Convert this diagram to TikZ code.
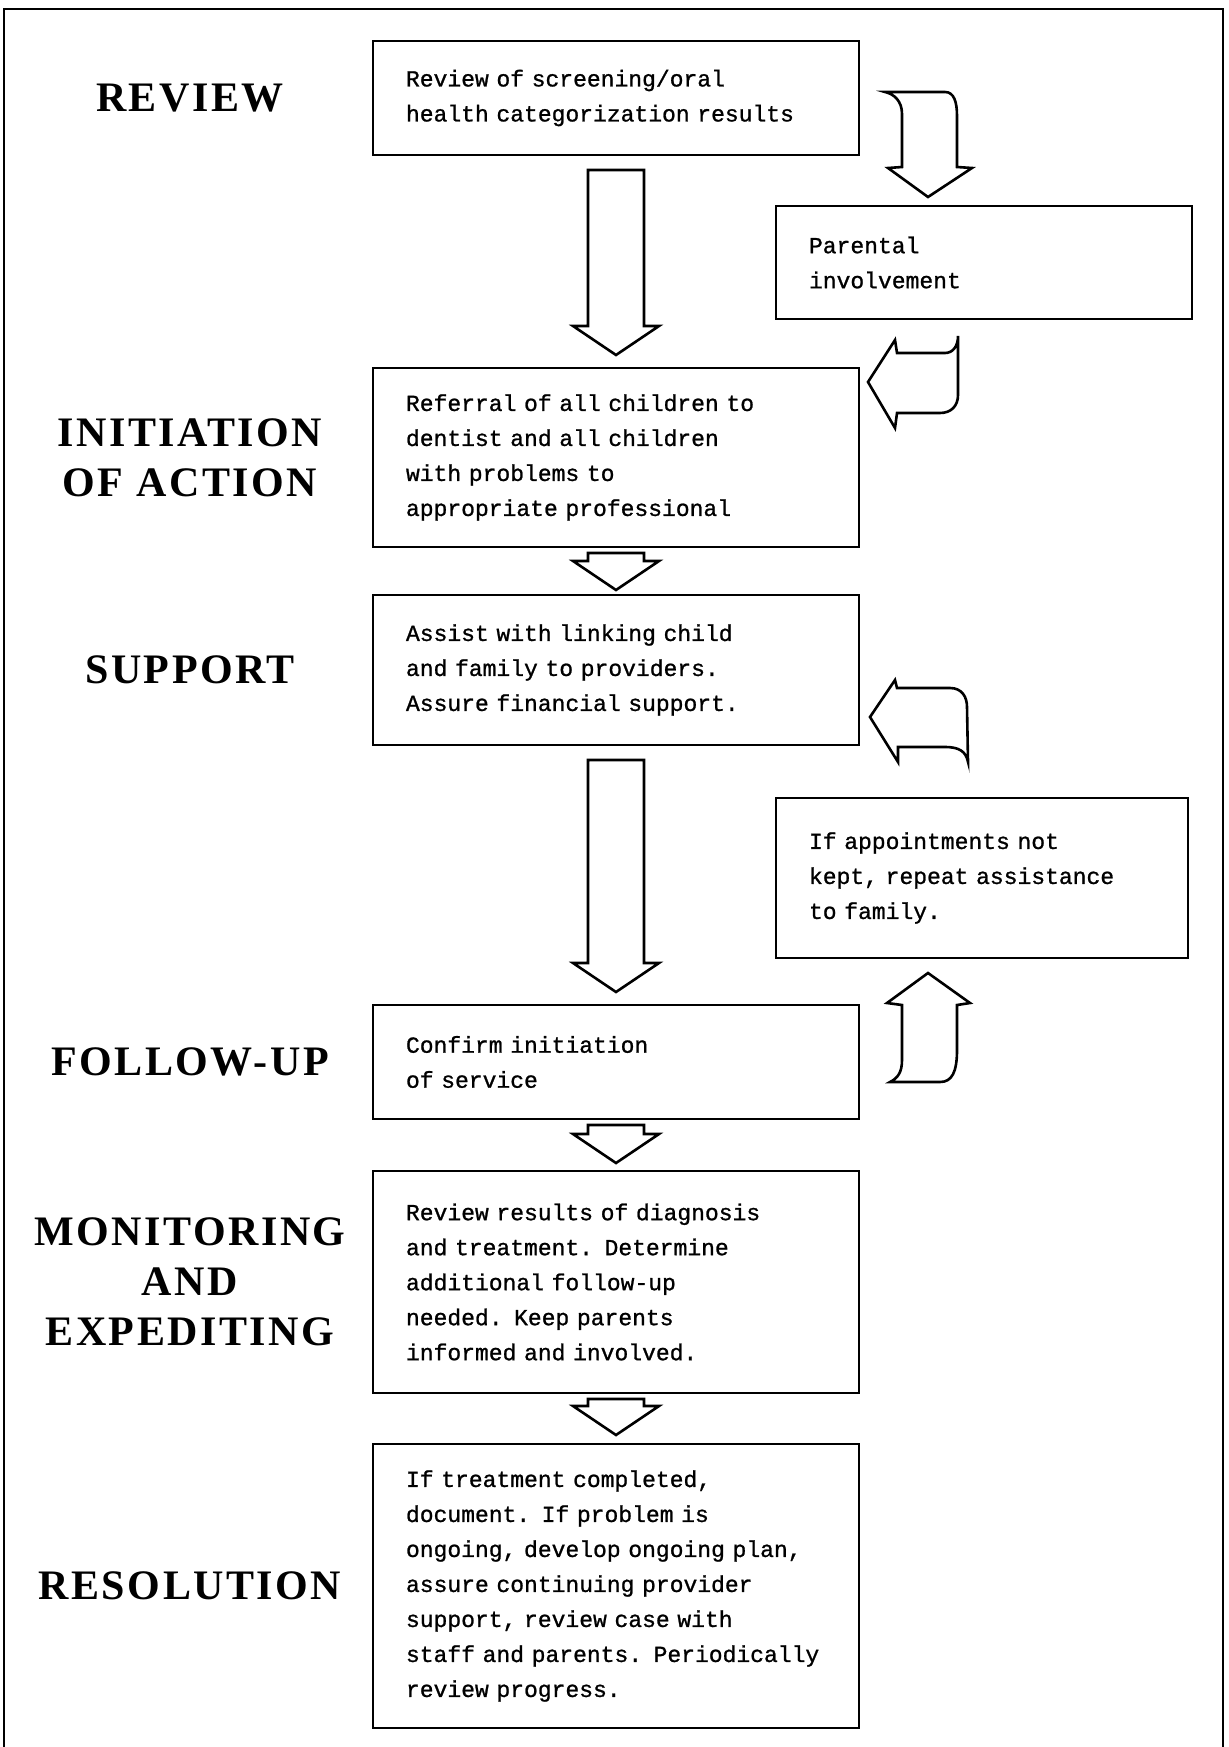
\documentclass[tikz,border=0pt]{standalone}
\usepackage{fontspec}
\usetikzlibrary{positioning, calc}
\newfontfamily\boxfont[FakeBold=1]{Liberation Mono}
\newfontfamily\stagefont[LetterSpace=6]{Liberation Serif}
% straight block arrow: from, to, top gap, bottom gap
\newcommand{\fatdown}[4]{%
\draw[blk] ($(#1.south)+(-28,-#3)$) -- ($(#1.south)+(28,-#3)$)
  -- ($(#2.north)+(28,#4+29)$) -- ($(#2.north)+(43,#4+29)$)
  -- ($(#2.north)+(0,#4)$)
  -- ($(#2.north)+(-43,#4+29)$) -- ($(#2.north)+(-28,#4+29)$) -- cycle;}

\begin{document}
\begin{tikzpicture}[x=1pt, y=1pt,
     box/.style = {rectangle, draw, line width=2.4pt, outer sep=0pt,
                   inner xsep=33pt, inner ysep=0pt, text width=420pt, align=left,
                   font=\boxfont\fontsize{23}{35}\selectfont},
 sidebox/.style = {box, text width=350pt, anchor=north west},
   stage/.style = {font=\stagefont\bfseries\fontsize{42}{50}\selectfont, align=center},
     blk/.style = {draw, line width=2.6pt, line join=miter, fill=white},
   frame/.style = {line width=2.6pt}
                        ]
\useasboundingbox (0,0) rectangle (1228,-1747);
\draw[frame] (4,-1747) -- (4,-9) -- (1223,-9) -- (1223,-1747);
\coordinate (lx) at (190,0);
% main column
\node (rev)     [box, minimum height=114pt] at (616,-98) {Review of screening/oral\\health categorization results};
\node (refer)   [box, below=213pt of rev, minimum height=179pt] {Referral of all children to\\dentist and all children\\with problems to\\appropriate professional};
\node (support) [box, below=48pt of refer, minimum height=150pt] {Assist with linking child\\and family to providers.\\Assure financial support.};
\node (confirm) [box, below=260pt of support, minimum height=114pt] {Confirm initiation\\of service};
\node (monit)   [box, below=52pt of confirm, minimum height=222pt] {Review results of diagnosis\\and treatment. Determine\\additional follow-up\\needed. Keep parents\\informed and involved.};
\node (resol)   [box, below=51pt of monit, minimum height=284pt] {If treatment completed,\\document. If problem is\\ongoing, develop ongoing plan,\\assure continuing provider\\support, review case with\\staff and parents. Periodically\\review progress.};
% side boxes
\node (parent)  [sidebox, minimum height=113pt] at (776,-206) {Parental\\involvement};
\node (appt)    [sidebox, text width=346pt, minimum height=160pt] at (776,-798) {If appointments not\\kept, repeat assistance\\to family.};
% stages
\node (lrev)     [stage] at (rev -| lx) {REVIEW};
\node (lrefer)   [stage] at (refer -| lx) {INITIATION\\OF ACTION};
\node (lsupport) [stage] at (support -| lx) {SUPPORT};
\node (lconfirm) [stage] at (confirm -| lx) {FOLLOW-UP};
\node (lmonit)   [stage] at (monit -| lx) {MONITORING\\AND\\EXPEDITING};
\node (lresol)   [stage] at (resol -| lx) {RESOLUTION};
% block arrows
\fatdown{rev}{refer}{15}{13}
\fatdown{refer}{support}{6}{5}
\fatdown{support}{confirm}{15}{13}
\fatdown{confirm}{monit}{6}{8}
\fatdown{monit}{resol}{6}{9}
% curved arrows
\begin{scope}[shift={(parent.north west)}]
\draw[blk] (109,114) -- (169,114) .. controls (178,114) and (181,104) .. (181,90) -- (181,39)
  -- (196,38) -- (152,9) -- (112,38) -- (126,39) -- (126,92) .. controls (126,105) and (118,112) .. (109,114) -- cycle;
\end{scope}
\begin{scope}[shift={(refer.north east)}]
\draw[blk] (9,-14) -- (36,28) -- (38,15) -- (86,15) .. controls (94,15) and (99,22) .. (99,32) -- (99,-27)
  .. controls (99,-38) and (92,-45) .. (81,-45) -- (38,-45) -- (36,-60) -- cycle;
\end{scope}
\begin{scope}[shift={(support.south east)}]
\draw[blk] (11,28) -- (36,65) -- (38,57) -- (91,57) .. controls (103,57) and (108,48) .. (108,38) -- (109,-17)
  .. controls (107,-7) and (101,-2) .. (86,-2) -- (39,-2) -- (39,-17) -- cycle;
\end{scope}
\begin{scope}[shift={(appt.south west)}]
\draw[blk] (152,-15) -- (194,-45) -- (181,-47) -- (181,-92) .. controls (181,-114) and (176,-124) .. (164,-124)
  -- (114,-124) .. controls (122,-120) and (126,-114) .. (126,-102) -- (126,-47) -- (111,-45) -- cycle;
\end{scope}
\end{tikzpicture}
\end{document}
